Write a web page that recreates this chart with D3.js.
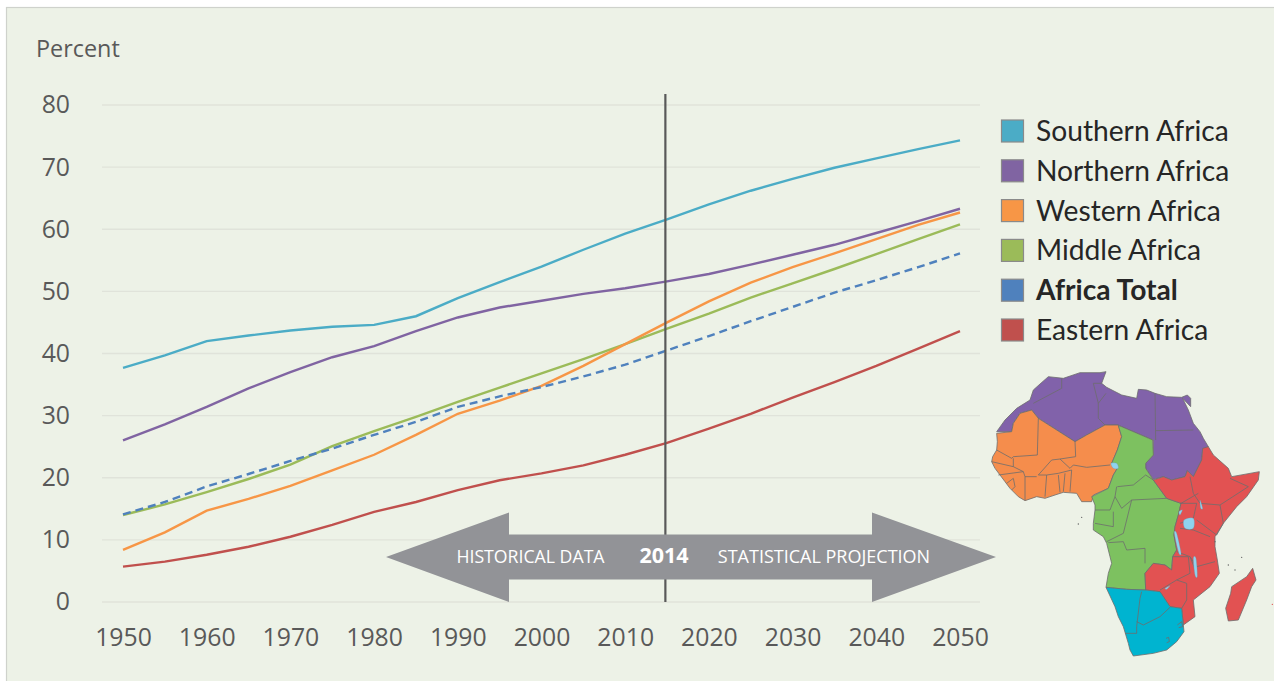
<!DOCTYPE html>
<html>
<head>
<meta charset="utf-8">
<script src="https://d3js.org/d3.v7.min.js"></script>
<style>
html, body { margin: 0; padding: 0; background: #fff; overflow: hidden; }
svg { display: block; }
text { font-family: "Open Sans", sans-serif; }
</style>
</head>
<body>
<div id="graph"></div>
<script>
// chart data, percent urban by region
var years = [1950, 1955, 1960, 1965, 1970, 1975, 1980, 1985, 1990, 1995, 2000, 2005, 2010, 2015, 2020, 2025, 2030, 2035, 2040, 2045, 2050];
var southern = [37.7, 39.7, 42, 42.9, 43.7, 44.3, 44.6, 46, 48.9, 51.5, 54, 56.7, 59.3, 61.6, 64, 66.2, 68.1, 69.9, 71.4, 72.9, 74.3];
var northern = [26, 28.6, 31.4, 34.4, 37, 39.4, 41.2, 43.6, 45.8, 47.4, 48.5, 49.6, 50.5, 51.6, 52.8, 54.3, 55.9, 57.5, 59.4, 61.3, 63.3];
var western = [8.4, 11.2, 14.7, 16.6, 18.7, 21.2, 23.7, 26.9, 30.3, 32.4, 34.8, 38, 41.5, 45, 48.4, 51.4, 53.9, 56.1, 58.4, 60.7, 62.7];
var middle = [14, 15.7, 17.7, 19.8, 22.1, 25.1, 27.5, 29.8, 32.2, 34.5, 36.8, 39.1, 41.5, 44, 46.4, 49, 51.3, 53.6, 56, 58.4, 60.8];
var total = [14.1, 16.1, 18.6, 20.6, 22.7, 24.7, 26.9, 29, 31.4, 33.1, 34.6, 36.3, 38.2, 40.5, 42.8, 45.2, 47.5, 49.8, 51.8, 53.9, 56.1];
var eastern = [5.7, 6.5, 7.6, 8.9, 10.5, 12.4, 14.5, 16.1, 18, 19.6, 20.7, 22, 23.7, 25.6, 27.9, 30.3, 32.9, 35.4, 38, 40.8, 43.6];

var xTicks = [1950, 1960, 1970, 1980, 1990, 2000, 2010, 2020, 2030, 2040, 2050];
var yTicks = [0, 10, 20, 30, 40, 50, 60, 70, 80];
var names = ["Southern Africa", "Northern Africa", "Western Africa", "Middle Africa", "Africa Total", "Eastern Africa"];
var colors = ["#4bacc6", "#8064a2", "#f79646", "#9bbb59", "#4f81bd", "#c0504d"];
var seriesValues = [southern, northern, western, middle, total, eastern];
var drawOrder = [0, 1, 3, 2, 4, 5];
var splitYear = 2014.8;

// map outlines, traced in a 882 x 930 box
var mapRegions = [
  { fill: "#8162aa", pts: [[50,215],[95,215],[100,190],[120,160],[155,150],[175,175],[285,245],[320,225],[375,195],[415,195],[425,200],[520,240],[520,285],[497,310],[497,325],[520,358],[550,350],[575,360],[615,350],[622,332],[640,350],[665,300],[668,268],[685,260],[670,235],[660,215],[640,190],[625,150],[608,115],[632,140],[632,115],[622,105],[605,112],[560,110],[525,100],[500,90],[475,88],[470,115],[425,105],[380,82],[365,70],[378,35],[360,38],[300,38],[250,55],[205,50],[180,72],[160,90],[150,120],[110,145],[75,180]] },
  { fill: "#f58d4c", pts: [[50,220],[95,215],[100,190],[120,160],[155,150],[175,175],[285,245],[320,225],[375,195],[415,195],[425,230],[412,270],[395,310],[412,325],[400,345],[385,385],[340,405],[335,425],[305,425],[290,400],[250,397],[225,405],[195,415],[170,410],[135,422],[115,410],[90,385],[75,365],[60,345],[45,325],[35,305],[38,290],[50,270],[52,245]] },
  { fill: "#7dc160", pts: [[415,197],[425,200],[518,240],[520,285],[497,310],[497,325],[520,360],[560,415],[603,430],[595,465],[585,500],[582,525],[590,570],[578,590],[575,630],[555,615],[520,610],[495,640],[497,690],[440,688],[378,682],[385,640],[395,610],[390,590],[380,550],[370,530],[340,510],[340,490],[345,450],[345,435],[335,410],[385,385],[400,345],[412,325],[395,310],[412,270],[425,230]] },
  { fill: "#e25252", pts: [[520,360],[550,350],[575,360],[615,350],[622,332],[640,350],[665,300],[668,265],[685,260],[700,285],[745,325],[755,350],[838,335],[835,360],[800,410],[770,440],[730,490],[705,530],[705,560],[712,600],[718,640],[690,680],[640,720],[645,770],[610,795],[605,745],[570,740],[540,695],[497,690],[495,640],[520,610],[555,615],[575,630],[578,590],[590,570],[582,525],[585,500],[595,465],[603,430],[560,415]] },
  { fill: "#00b4d0", pts: [[378,682],[440,688],[497,690],[540,695],[570,740],[605,745],[610,795],[612,815],[590,845],[560,870],[520,880],[460,888],[450,870],[445,850],[430,800],[415,770],[405,740]] },
  { fill: "#e25252", pts: [[818,625],[828,660],[815,680],[800,720],[775,780],[745,783],[737,745],[752,700],[755,680],[800,650]] }
];
var mapLakes = [
  [[393,310],[410,310],[415,325],[400,325]],
  [[612,480],[640,475],[640,505],[615,505]],
  [[583,520],[590,520],[603,578],[596,578]],
  [[640,595],[648,595],[652,648],[645,645]],
  [[660,420],[668,445],[662,445]],
  [[597,455],[607,450],[600,465]],
  [[555,685],[570,677],[560,688]]
];
var mapBorders = [
  [[160,130],[245,85],[245,55]],
  [[378,100],[355,130],[355,175],[375,195]],
  [[365,70],[340,70],[355,130]],
  [[525,100],[527,240]],
  [[527,212],[640,210]],
  [[175,175],[172,285],[100,290],[95,295],[50,270]],
  [[285,245],[287,290],[240,297],[215,300],[175,345]],
  [[240,297],[270,325],[280,315],[320,322],[390,315]],
  [[175,345],[200,345],[235,340],[275,330]],
  [[100,295],[100,320],[130,335],[135,350],[170,350]],
  [[200,345],[195,410]],
  [[235,345],[240,397]],
  [[255,340],[250,395]],
  [[275,330],[270,395]],
  [[55,345],[130,335]],
  [[135,350],[135,420]],
  [[80,370],[100,355],[105,380],[95,390]],
  [[35,305],[100,320]],
  [[412,380],[460,375],[497,345],[520,360]],
  [[410,380],[405,410],[425,445],[455,420],[560,415]],
  [[345,450],[390,450],[405,410]],
  [[455,420],[430,520],[380,545]],
  [[345,490],[400,500],[400,455]],
  [[385,548],[430,545],[440,570],[495,565],[495,610]],
  [[630,350],[640,400],[660,430],[720,435],[805,380],[750,355]],
  [[603,430],[655,400]],
  [[720,435],[730,490],[710,525],[650,480]],
  [[600,430],[650,430],[640,475],[600,490]],
  [[600,505],[640,510],[690,530]],
  [[590,575],[630,590],[650,620],[705,605]],
  [[578,590],[625,590],[630,640],[590,660],[540,690]],
  [[630,590],[650,640]],
  [[590,660],[620,670],[620,720],[605,745]],
  [[485,695],[480,715],[470,800],[470,820],[435,820]],
  [[470,785],[490,795],[540,770],[570,742]],
  [[558,835],[566,832],[568,845],[560,848]],
  [[592,795],[605,785],[608,800],[596,803]]
];
var mapSpecks = [[305,472],[295,492],[745,615],[765,630],[785,592],[877,733],[705,545]];

var W = 1274, H = 681;

var x = d3.scaleLinear().domain([1950, 2050]).range([123, 960]);
var y = d3.scaleLinear().domain([0, 80]).range([602, 105]);

var mapX = d3.scaleLinear().domain([0, 882]).range([980, 1274]);
var mapY = d3.scaleLinear().domain([0, 930]).range([360, 670]);

var svg = d3.select("#graph").append("svg")
    .attr("width", W)
    .attr("height", H);

// panel
svg.append("rect")
    .attr("x", 6.5).attr("y", 7.5)
    .attr("width", W).attr("height", H)
    .attr("fill", "#edf2e7")
    .attr("stroke", "#cfd2cc")
    .attr("stroke-width", 1.2);

// gridlines
svg.append("g").selectAll("line")
    .data(yTicks)
    .join("line")
    .attr("x1", 102).attr("x2", 980)
    .attr("y1", function (d) { return y(d); })
    .attr("y2", function (d) { return y(d); })
    .attr("stroke", "#e0e3da")
    .attr("stroke-width", 1.3);

// axes, no domain or tick marks
var yAxis = d3.axisLeft(y).tickValues(yTicks).tickSize(0).tickPadding(0);
var gy = svg.append("g").attr("transform", "translate(70,0)").call(yAxis);
var xAxis = d3.axisBottom(x).tickValues(xTicks).tickFormat(d3.format("d")).tickSize(0).tickPadding(0);
var gx = svg.append("g").attr("transform", "translate(0,625)").call(xAxis);
gy.select(".domain").remove();
gx.select(".domain").remove();
svg.selectAll(".tick text")
    .attr("fill", "#595959")
    .style("font-family", "'Open Sans', sans-serif")
    .style("font-size", "24.8px");
gx.selectAll(".tick text").attr("dy", "0.32em").attr("y", 13);

svg.append("text")
    .attr("x", 36).attr("y", 57)
    .attr("fill", "#595959")
    .style("font-size", "23.4px")
    .text("Percent");

// lines
var line = d3.line()
    .x(function (d, i) { return x(years[i]); })
    .y(function (d) { return y(d); });

drawOrder.forEach(function (s) {
    svg.append("path")
        .attr("d", line(seriesValues[s]))
        .attr("fill", "none")
        .attr("stroke", colors[s])
        .attr("stroke-width", 2.4)
        .attr("stroke-dasharray", names[s] === "Africa Total" ? "8,5" : null);
});

// 2014 marker
svg.append("line")
    .attr("x1", x(splitYear)).attr("x2", x(splitYear))
    .attr("y1", 94).attr("y2", y(0))
    .attr("stroke", "#595959")
    .attr("stroke-width", 2.2);

// double arrow
var arrowPts = [[386, 557], [509, 512.5], [509, 534.5], [872, 534.5], [872, 512.5], [996, 557], [872, 602], [872, 579.5], [509, 579.5], [509, 602]];
svg.append("polygon")
    .attr("points", arrowPts.map(function (p) { return p.join(","); }).join(" "))
    .attr("fill", "#929397");

svg.append("text").attr("x", 530.5).attr("y", 563).attr("text-anchor", "middle")
    .attr("fill", "#fff").style("font-size", "17.7px").text("HISTORICAL DATA");
svg.append("text").attr("x", 664).attr("y", 563).attr("text-anchor", "middle")
    .attr("fill", "#fff").style("font-size", "21.5px").style("font-weight", 700).text("2014");
svg.append("text").attr("x", 824).attr("y", 563).attr("text-anchor", "middle")
    .attr("fill", "#fff").style("font-size", "18px").text("STATISTICAL PROJECTION");

// legend
var legend = svg.append("g").selectAll("g")
    .data(names)
    .join("g")
    .attr("transform", function (d, i) { return "translate(0," + (131 + i * 39.8) + ")"; });
legend.append("rect")
    .attr("x", 1001.5).attr("y", -11)
    .attr("width", 22).attr("height", 22)
    .attr("fill", function (d, i) { return colors[i]; })
    .attr("stroke", "#8a8a8a")
    .attr("stroke-width", 1.2);
legend.append("text")
    .attr("x", 1036).attr("y", 10)
    .attr("fill", "#262626")
    .style("font-family", "Lato, sans-serif")
    .style("font-size", "28.2px")
    .style("font-weight", function (d) { return d === "Africa Total" ? 700 : 400; })
    .text(function (d) { return d; });

// africa map
var mapLine = d3.line()
    .x(function (d) { return mapX(d[0]); })
    .y(function (d) { return mapY(d[1]); });
var lakeLine = d3.line()
    .x(function (d) { return mapX(d[0]); })
    .y(function (d) { return mapY(d[1]); })
    .curve(d3.curveCardinalClosed);
var map = svg.append("g");
mapRegions.forEach(function (r) {
    map.append("path")
        .attr("d", mapLine(r.pts) + "Z")
        .attr("fill", r.fill)
        .attr("stroke", "#6d6d6d")
        .attr("stroke-width", 0.8)
        .attr("stroke-linejoin", "round");
});
mapBorders.forEach(function (b) {
    map.append("path")
        .attr("d", mapLine(b))
        .attr("fill", "none")
        .attr("stroke", "#6d6d6d")
        .attr("stroke-width", 0.8);
});
mapLakes.forEach(function (l) {
    map.append("path")
        .attr("d", lakeLine(l))
        .attr("fill", "#8fd3ee")
        .attr("stroke", "#6d8fa0")
        .attr("stroke-width", 0.3);
});
map.selectAll("circle")
    .data(mapSpecks)
    .join("circle")
    .attr("cx", function (d) { return mapX(d[0]); })
    .attr("cy", function (d) { return mapY(d[1]); })
    .attr("r", 0.7)
    .attr("fill", function (d) { return d[0] > 870 ? "#e25252" : "#666"; });
</script>
</body>
</html>
